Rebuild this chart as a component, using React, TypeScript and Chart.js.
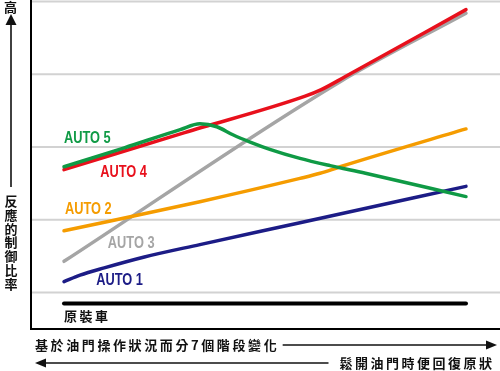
import React, { useEffect, useRef } from "react";
import { Chart, registerables } from "chart.js";

Chart.register(...registerables);

// x: position along the 7-stage progression (0 = start, 100 = end); y: relative control ratio
const auto1X = [0, 4, 10, 20, 33.8, 58.7, 100];
const auto1Y = [1.15, 1.24, 1.34, 1.49, 1.66, 1.96, 2.46];

const auto2X = [0, 33.8, 58.7, 63.7, 68.7, 100];
const auto2Y = [1.85, 2.25, 2.57, 2.64, 2.73, 3.25];

const auto3X = [0, 68.7, 100];
const auto3Y = [1.43, 3.9, 4.84];

const auto4X = [0, 30, 60, 64, 70, 100];
const auto4Y = [2.69, 3.2, 3.7, 3.79, 3.97, 4.89];

const auto5X = [0, 15, 28.9, 33.8, 38, 42, 46.3, 51.2, 58.7, 66.2, 75, 100];
const auto5Y = [2.73, 2.99, 3.24, 3.32, 3.28, 3.17, 3.07, 2.97, 2.845, 2.745, 2.64, 2.32];

const stockX = [0, 100];
const stockY = [0.85, 0.85];

const gridValues = [1, 2, 3, 4, 5];

const seriesNames = ["AUTO 5", "AUTO 4", "AUTO 2", "AUTO 3", "AUTO 1"];
const stockName = "原裝車";
const yTitleTop = "高";
const yTitle = "反應的制御比率";
const xTitle1 = "基於油門操作狀況而分7個階段變化";
const xTitle2 = "鬆開油門時便回復原狀";

const COLORS: Record<string, string> = {
  "AUTO 1": "#1c1c86",
  "AUTO 2": "#f59c00",
  "AUTO 3": "#a5a5a5",
  "AUTO 4": "#e8101c",
  "AUTO 5": "#0f9a45",
};

// label anchors in data units (left edge, vertical middle)
const labelAnchors: Record<string, { x: number; y: number }> = {
  "AUTO 5": { x: 0, y: 3.13 },
  "AUTO 4": { x: 9, y: 2.66 },
  "AUTO 2": { x: 0.25, y: 2.155 },
  "AUTO 3": { x: 10.9, y: 1.69 },
  "AUTO 1": { x: 8, y: 1.18 },
};
const stockAnchor = { x: 0, y: 0.684 };

const pts = (xs: number[], ys: number[]) => xs.map((x, i) => ({ x, y: ys[i] }));

const CJK = '"Noto Sans CJK TC", "Noto Sans CJK SC", sans-serif';

function drawSpaced(ctx: CanvasRenderingContext2D, text: string, x: number, y: number, spacing: number) {
  let cx = x;
  for (const ch of Array.from(text)) {
    ctx.fillText(ch, cx, y);
    cx += ctx.measureText(ch).width + spacing;
  }
  return cx - spacing;
}
function spacedWidth(ctx: CanvasRenderingContext2D, text: string, spacing: number) {
  let w = 0;
  const chars = Array.from(text);
  chars.forEach((ch, i) => {
    w += ctx.measureText(ch).width + (i < chars.length - 1 ? spacing : 0);
  });
  return w;
}

const decorations = {
  id: "decorations",
  beforeDatasetsDraw(chart: any) {
    const { ctx, chartArea: a, scales } = chart;
    const y = scales.y;
    ctx.save();
    ctx.strokeStyle = "#d2d2d2";
    ctx.lineWidth = 2;
    for (const v of gridValues) {
      const py = y.getPixelForValue(v);
      ctx.beginPath();
      ctx.moveTo(a.left, py);
      ctx.lineTo(a.right, py);
      ctx.stroke();
    }
    ctx.strokeStyle = "#000";
    ctx.lineWidth = 2;
    ctx.beginPath();
    ctx.moveTo(a.left, a.top);
    ctx.lineTo(a.left, a.bottom);
    ctx.lineTo(a.right, a.bottom);
    ctx.stroke();
    ctx.restore();
  },
  afterDatasetsDraw(chart: any) {
    const { ctx, chartArea: a, scales } = chart;
    const x = scales.x;
    const y = scales.y;
    ctx.save();
    // series labels
    ctx.textBaseline = "middle";
    ctx.textAlign = "left";
    ctx.font = 'bold 16px "Liberation Sans", Arial, sans-serif';
    for (const name of seriesNames) {
      const an = labelAnchors[name];
      const px = x.getPixelForValue(an.x);
      const py = y.getPixelForValue(an.y);
      ctx.save();
      ctx.translate(px, py);
      ctx.scale(0.8, 1);
      ctx.fillStyle = COLORS[name];
      ctx.fillText(name, 0, 1);
      ctx.restore();
    }
    // stock label
    ctx.fillStyle = "#111";
    ctx.font = `bold 13px ${CJK}`;
    drawSpaced(ctx, stockName, x.getPixelForValue(stockAnchor.x), y.getPixelForValue(stockAnchor.y), 2.5);

    // y axis annotation
    ctx.textAlign = "center";
    ctx.fillText(yTitleTop, 10.5, 7.5);
    const chars = Array.from(yTitle);
    chars.forEach((ch, i) => ctx.fillText(ch, 11, 201 + i * 13.8));
    ctx.strokeStyle = "#111";
    ctx.lineWidth = 1.6;
    ctx.beginPath();
    ctx.moveTo(11, 24);
    ctx.lineTo(11, 187);
    ctx.stroke();
    ctx.beginPath();
    ctx.moveTo(11, 14);
    ctx.lineTo(5.5, 25);
    ctx.lineTo(16.5, 25);
    ctx.closePath();
    ctx.fill();

    // bottom annotations
    ctx.textAlign = "left";
    const l1y = a.bottom + 16;
    const end1 = drawSpaced(ctx, xTitle1, a.left + 4, l1y, 2.6);
    ctx.beginPath();
    ctx.moveTo(end1 + 6, l1y);
    ctx.lineTo(489, l1y);
    ctx.stroke();
    ctx.beginPath();
    ctx.moveTo(497, l1y);
    ctx.lineTo(486, l1y - 4.5);
    ctx.lineTo(486, l1y + 4.5);
    ctx.closePath();
    ctx.fill();

    const l2y = a.bottom + 34;
    const w2 = spacedWidth(ctx, xTitle2, 2.5);
    const start2 = 492 - w2;
    drawSpaced(ctx, xTitle2, start2, l2y, 2.5);
    ctx.beginPath();
    ctx.moveTo(43, l2y);
    ctx.lineTo(start2 - 11, l2y);
    ctx.stroke();
    ctx.beginPath();
    ctx.moveTo(35, l2y);
    ctx.lineTo(46, l2y - 4.5);
    ctx.lineTo(46, l2y + 4.5);
    ctx.closePath();
    ctx.fill();
    ctx.restore();
  },
};

export default function App() {
  const ref = useRef<HTMLCanvasElement | null>(null);
  useEffect(() => {
    document.body.style.margin = "0";
    const canvas = ref.current!;
    const mk = (label: string, xs: number[], ys: number[], color: string, order: number, width = 3.5) => ({
      label,
      data: pts(xs, ys),
      borderColor: color,
      backgroundColor: color,
      borderWidth: width,
      pointRadius: 0,
      fill: false,
      cubicInterpolationMode: "monotone" as const,
      borderCapStyle: "round" as const,
      borderJoinStyle: "round" as const,
      order,
    });
    const chart = new Chart(canvas, {
      type: "line",
      data: {
        datasets: [
          mk("AUTO 5", auto5X, auto5Y, COLORS["AUTO 5"], 0),
          mk("AUTO 4", auto4X, auto4Y, COLORS["AUTO 4"], 1),
          mk("AUTO 2", auto2X, auto2Y, COLORS["AUTO 2"], 2),
          mk("AUTO 1", auto1X, auto1Y, COLORS["AUTO 1"], 3),
          mk("AUTO 3", auto3X, auto3Y, COLORS["AUTO 3"], 4),
          mk(stockName, stockX, stockY, "#000", 5, 4),
        ],
      },
      options: {
        animation: false,
        responsive: true,
        maintainAspectRatio: false,
        layout: { padding: { left: 31, right: 0, top: 0, bottom: 42 } },
        plugins: { legend: { display: false }, tooltip: { enabled: false } },
        scales: {
          x: { type: "linear", display: false, min: -8.21, max: 108.46 },
          y: { type: "linear", display: false, min: 0.5, max: 5.022 },
        },
      },
      plugins: [decorations],
    });
    return () => chart.destroy();
  }, []);
  return (
    <div style={{ position: "absolute", left: 0, top: 0, width: 500, height: 371, background: "#fff" }}>
      <canvas ref={ref} />
    </div>
  );
}
